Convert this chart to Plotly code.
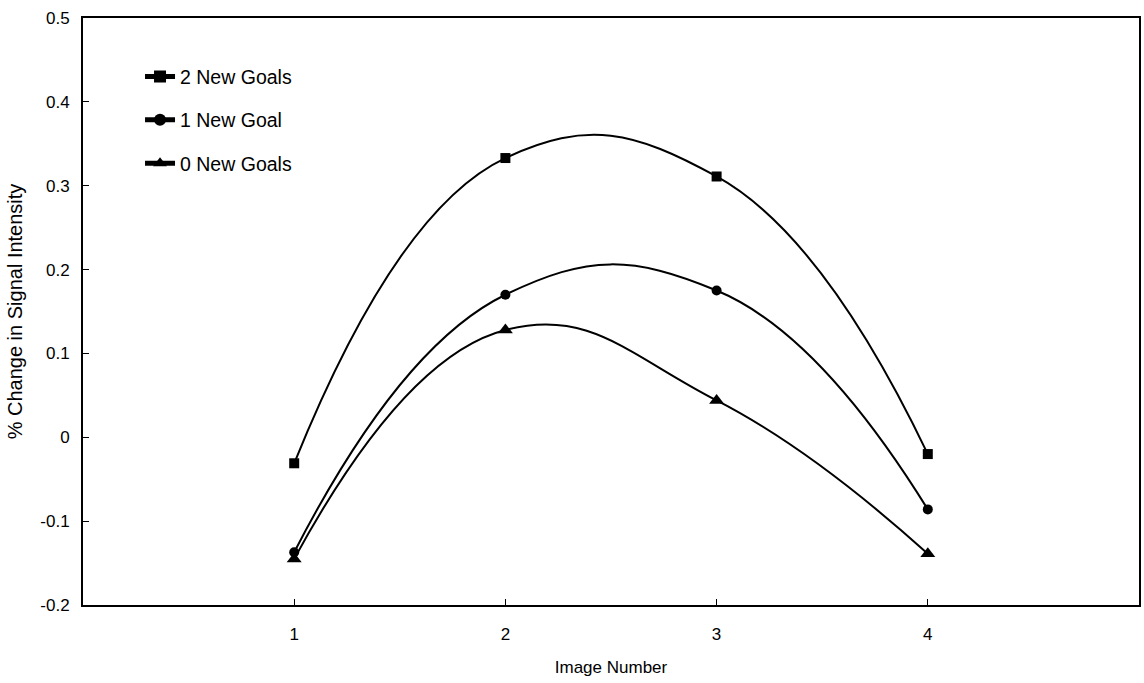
import plotly.graph_objects as go

image_number = [1, 2, 3, 4]
two_new_goals = [-0.031, 0.333, 0.311, -0.020]
one_new_goal = [-0.137, 0.170, 0.175, -0.086]
zero_new_goals = [-0.145, 0.128, 0.044, -0.139]

y_ticks = [-0.2, -0.1, 0, 0.1, 0.2, 0.3, 0.4, 0.5]
y_tick_text = ["-0.2", "-0.1", "0", "0.1", "0.2", "0.3", "0.4", "0.5"]

series = [
    ("2 New Goals", two_new_goals, "square", 10),
    ("1 New Goal", one_new_goal, "circle", 10),
    ("0 New Goals", zero_new_goals, "triangle-up", 13),
]

FONT = "Liberation Sans, Arial, sans-serif"

fig = go.Figure()
for i, (name, vals, sym, sz) in enumerate(series):
    fig.add_trace(go.Scatter(
        x=image_number, y=vals, name=name, mode="lines+markers",
        legendgroup=f"g{i}",
        line=dict(color="black", width=2, shape="spline", smoothing=1.3),
        marker=dict(symbol=sym, size=sz, color="black"),
    ))

fig.update_layout(
    width=1144, height=683,
    margin=dict(l=83, r=5, t=18, b=78, autoexpand=False),
    paper_bgcolor="white", plot_bgcolor="white",
    font=dict(family=FONT, color="black", size=17),
    showlegend=True,
    legend=dict(x=0.054, y=0.933, xanchor="left", yanchor="top",
                bgcolor="rgba(0,0,0,0)", font=dict(size=19.5), tracegroupgap=15,
                traceorder="grouped", itemsizing="constant"),
    xaxis=dict(range=[0, 5], tickvals=[1, 2, 3, 4], ticks="inside", ticklen=6,
               tickwidth=1, tickcolor="black", showline=True, linecolor="black",
               linewidth=2, mirror=True, showgrid=False, zeroline=False,
               automargin=False, ticklabelstandoff=13,
               tickfont=dict(size=17),
               title=dict(text="Image Number", font=dict(size=17), standoff=18)),
    yaxis=dict(range=[-0.2, 0.5], tickvals=y_ticks, ticktext=y_tick_text,
               ticks="inside", ticklen=6,
               tickwidth=1, tickcolor="black", showline=True, linecolor="black",
               linewidth=2, mirror=True, showgrid=False, zeroline=False,
               automargin=False, ticklabelstandoff=8,
               tickfont=dict(size=17),
               title=dict(text="% Change in Signal Intensity", font=dict(size=20), standoff=12)),
)

fig.write_html("out.html")
